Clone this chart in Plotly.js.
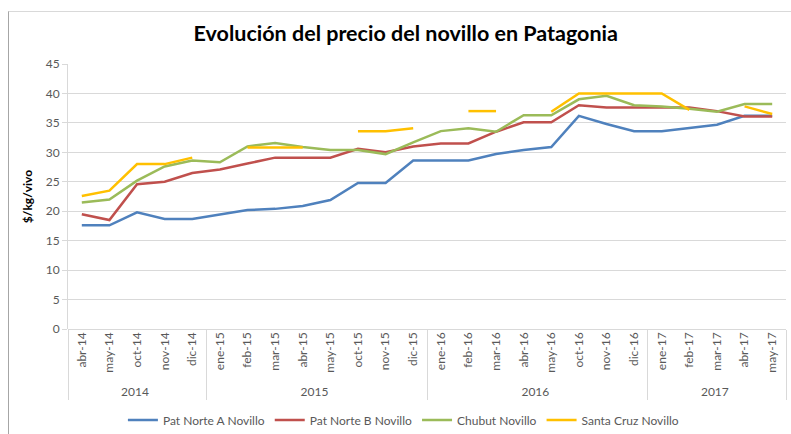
<!DOCTYPE html>
<html>
<head>
<meta charset="utf-8">
<script src="https://cdn.plot.ly/plotly-3.0.1.min.js"></script>
<style>
html,body{margin:0;padding:0;background:#fff;}
#wrap{position:relative;width:791px;height:434px;}
#chart{width:791px;height:434px;}
#frame{position:absolute;left:8px;top:11px;right:-5px;bottom:-5px;border-left:1px solid #a6a6a6;border-top:1px solid #d9d9d9;pointer-events:none;}
</style>
</head>
<body>
<div id="wrap"><div id="chart"></div><div id="frame"></div></div>
<script>
const years = ["2014","2014","2014","2014","2014",
  "2015","2015","2015","2015","2015","2015","2015","2015",
  "2016","2016","2016","2016","2016","2016","2016","2016",
  "2017","2017","2017","2017","2017"];
const months = ["abr-14","may-14","oct-14","nov-14","dic-14",
  "ene-15","feb-15","mar-15","abr-15","may-15","oct-15","nov-15","dic-15",
  "ene-16","feb-16","mar-16","abr-16","may-16","oct-16","nov-16","dic-16",
  "ene-17","feb-17","mar-17","abr-17","may-17"];
const patNorteA = [17.6,17.6,19.8,18.7,18.7,19.5,20.2,20.4,20.9,21.9,24.8,24.8,28.6,28.6,28.6,29.7,30.4,30.9,36.2,34.8,33.6,33.6,34.1,34.7,36.2,36.2];
const patNorteB = [19.5,18.5,24.6,25.0,26.5,27.1,28.1,29.1,29.1,29.1,30.6,30.0,31.0,31.5,31.5,33.5,35.1,35.1,38.0,37.6,37.6,37.6,37.6,37.0,36.1,36.1];
const chubut = [21.5,22.0,25.2,27.6,28.6,28.3,31.0,31.6,30.9,30.4,30.4,29.7,31.7,33.6,34.1,33.5,36.3,36.3,39.0,39.6,38.0,37.8,37.4,36.9,38.2,38.2];
const santaCruz = [22.6,23.5,28.0,28.0,29.1,null,30.8,30.8,30.8,null,33.6,33.6,34.1,null,37.0,37.0,null,36.9,40.0,40.0,40.0,40.0,37.2,null,37.8,36.5];

const FONT = "Lato, 'Liberation Sans', sans-serif";
const xcat = [years, months];
function tr(name, y, color){
  return {type:"scatter", mode:"lines", name:name, x:xcat, y:y,
    line:{color:color, width:2.5}, connectgaps:false, hoverinfo:"y"};
}
const data = [
  tr("Pat Norte A Novillo", patNorteA, "#4f81bd"),
  tr("Pat Norte B Novillo", patNorteB, "#c0504d"),
  tr("Chubut Novillo", chubut, "#9bbb59"),
  tr("Santa Cruz Novillo", santaCruz, "#ffc000")
];
const layout = {
  width:791, height:434,
  margin:{l:68, r:5, t:64, b:105},
  paper_bgcolor:"#fff", plot_bgcolor:"#fff",
  font:{family:FONT, size:12, color:"#595959"},
  title:{text:"<b>Evolución del precio del novillo en Patagonia</b>", font:{family:FONT, size:21.5, color:"#000"},
    x:0.513, xanchor:"center", y:1-33/434, yanchor:"middle"},
  xaxis:{type:"multicategory", range:[-0.5, months.length-0.5], tickangle:-90, showgrid:false, zeroline:false,
    showline:false, showdividers:true, dividercolor:"#d9d9d9", dividerwidth:1,
    tickfont:{family:FONT, size:12, color:"#595959"}, automargin:false},
  yaxis:{range:[0,45], dtick:5, tick0:0, showgrid:true, gridcolor:"#d9d9d9", gridwidth:1,
    zeroline:true, zerolinecolor:"#d9d9d9", zerolinewidth:1,
    showline:true, linecolor:"#d9d9d9", linewidth:1, ticks:"outside", ticklen:5, tickcolor:"#d9d9d9",
    tickfont:{family:FONT, size:12, color:"#595959"}, automargin:false,
    title:{text:"<b>$/kg/vivo</b>", font:{family:FONT, size:12, color:"#000"}, standoff:10}},
  showlegend:true,
  legend:{orientation:"h", x:0.51, xanchor:"center", xref:"container", yref:"container", y:1-420/434, yanchor:"middle",
    font:{family:FONT, size:12, color:"#595959"}, bgcolor:"rgba(0,0,0,0)", itemwidth:30, tracegroupgap:0},
  hovermode:false
};
Plotly.newPlot("chart", data, layout, {displayModeBar:false, staticPlot:true});
</script>
</body>
</html>
